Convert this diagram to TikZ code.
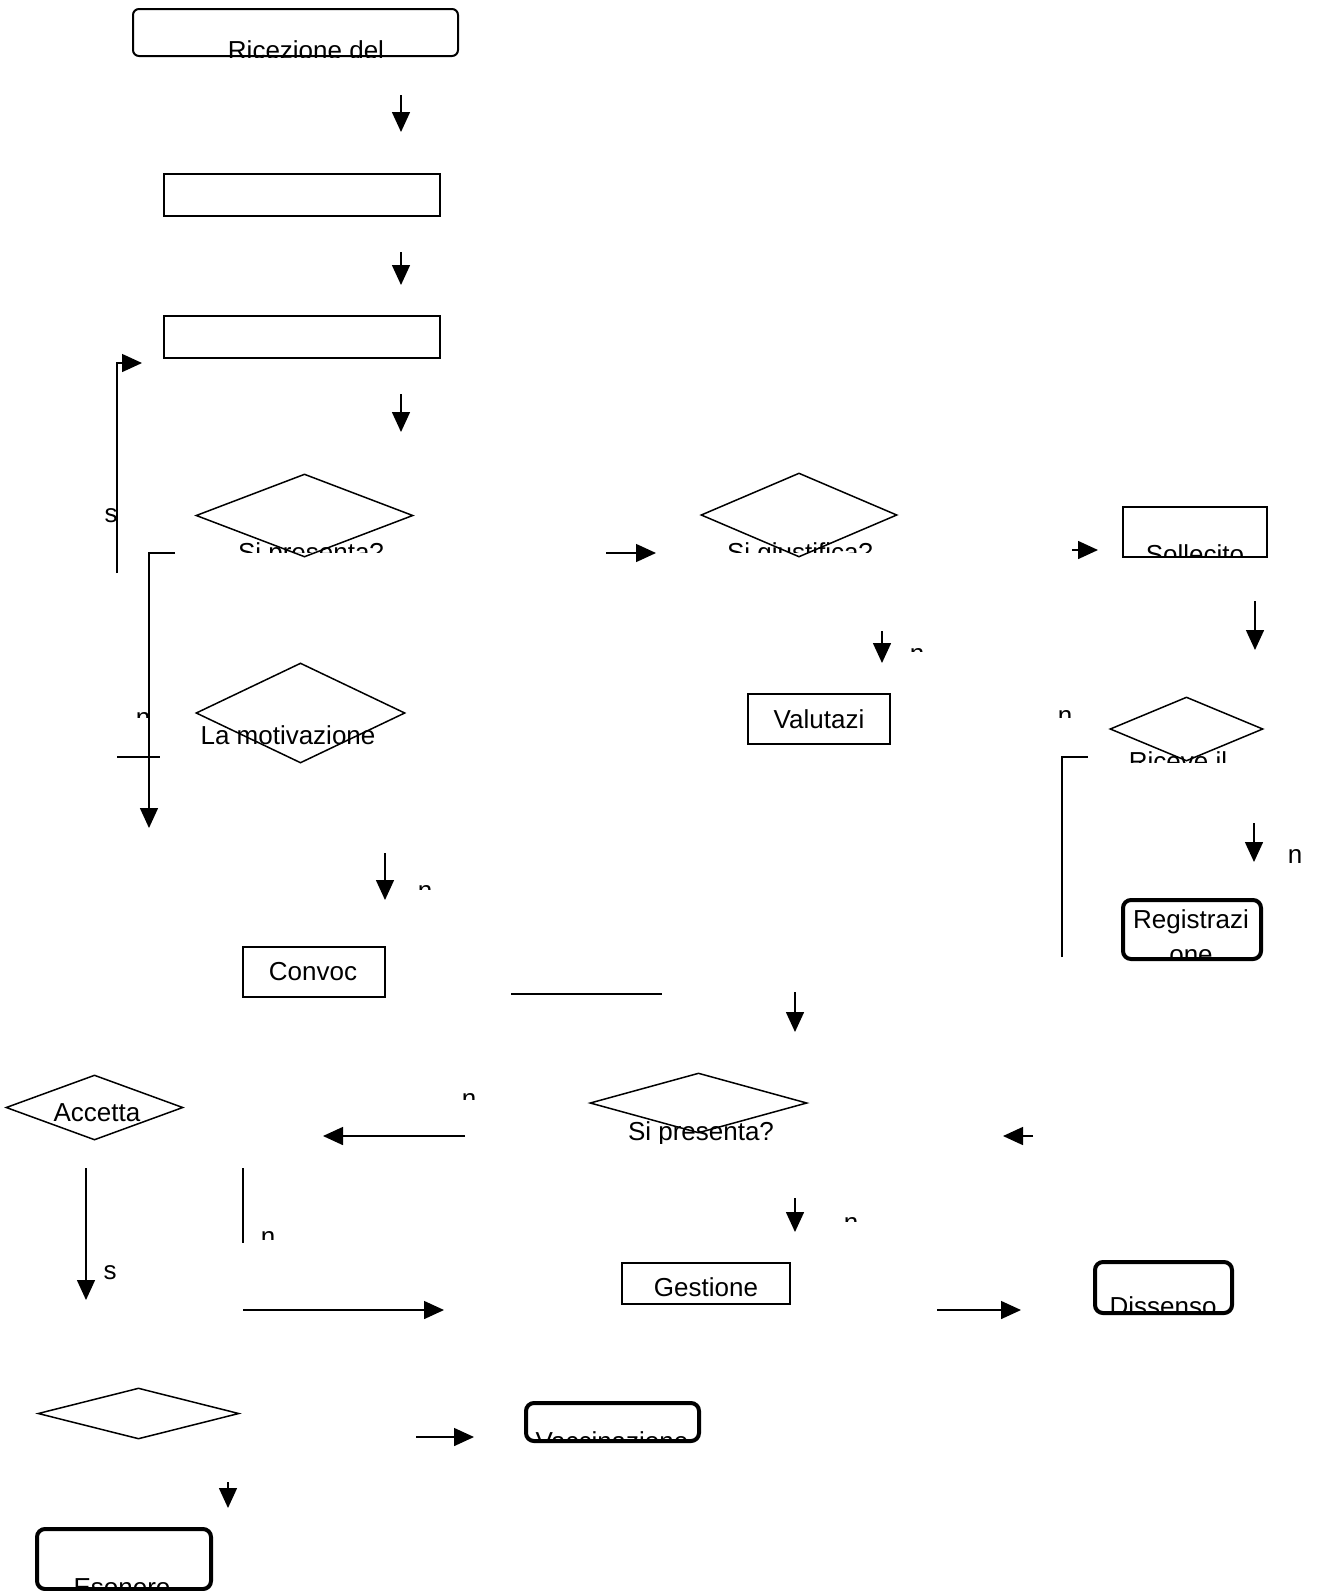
\documentclass[tikz,border=0pt]{standalone}
\usepackage{fontspec}
\setmainfont{Liberation Sans}
\usetikzlibrary{arrows.meta,shapes.geometric}

\tikzset{
  box/.style={draw, line width=1.5pt, inner sep=0pt},
  endbox/.style={draw, line width=4pt, rounded corners=8pt, inner sep=0pt},
  decision/.style={draw, diamond, line width=1.5pt, inner sep=0pt},
  txt/.style={anchor=base, inner sep=0pt, font=\fontsize{26}{30}\selectfont},
  arr/.style={line width=1.5pt, -{Triangle[length=20pt,width=18pt]}},
  conn/.style={line width=1.5pt},
}

\begin{document}
\begin{tikzpicture}[x=1pt, y=-1pt]
    \useasboundingbox (0,0) rectangle (1325,1591);

    % boxes
    \node[box, rounded corners=6pt, line width=2pt, minimum width=325pt, minimum height=47pt] (ric) at (295.5,32.5) {};
    \node[box, minimum width=276pt, minimum height=42pt] (b2) at (302,195) {};
    \node[box, minimum width=276pt, minimum height=42pt] (b3) at (302,337) {};
    \node[box, minimum width=144pt, minimum height=50pt] (soll) at (1195,532) {};
    \node[box, minimum width=142pt, minimum height=50pt] (val) at (819,719) {};
    \node[box, minimum width=142pt, minimum height=50pt] (conv) at (314,972) {};
    \node[box, minimum width=168pt, minimum height=41pt] (gest) at (706,1283.5) {};
    \node[endbox, minimum width=138pt, minimum height=59pt] (reg) at (1192,929.5) {};
    \node[endbox, minimum width=137pt, minimum height=51pt] (diss) at (1163.5,1287.5) {};
    \node[endbox, minimum width=173pt, minimum height=38pt] (vacc) at (612.5,1422) {};
    \node[endbox, minimum width=174pt, minimum height=60pt] (eson) at (124,1559) {};

    % decisions
    \node[decision, minimum width=217pt, minimum height=83pt] (d1) at (304.5,515.5) {};
    \node[decision, minimum width=209pt, minimum height=100pt] (d2) at (300.5,713) {};
    \node[decision, minimum width=196pt, minimum height=84pt] (d3) at (799,515) {};
    \node[decision, minimum width=153pt, minimum height=64pt] (d4) at (1186.5,729) {};
    \node[decision, minimum width=177pt, minimum height=65pt] (d5) at (94.5,1107.5) {};
    \node[decision, minimum width=217pt, minimum height=60pt] (d6) at (698.5,1103) {};
    \node[decision, minimum width=201pt, minimum height=51pt] (d7) at (138.5,1413.5) {};

    % texts
    \node[txt] (valT) at (819,728) {Valutazi};
    \node[txt] (convT) at (313,980) {Convoc};
    \node[txt] (motT) at (288,744) {La motivazione};
    \node[txt] (accT) at (97,1121) {Accetta};
    \node[txt] (regT) at (1191,928) {Registrazi};

    \begin{scope}
        \clip (ric.north west) rectangle (ric.south east);
        \node[txt] (ricT) at (306,59) {Ricezione del};
    \end{scope}
    \begin{scope}
        \clip (220,530) rectangle (400,552);
        \node[txt] (d1T) at (311,561) {Si presenta?};
    \end{scope}
    \begin{scope}
        \clip (720,530) rectangle (880,552);
        \node[txt] (d3T) at (800,561) {Si giustifica?};
    \end{scope}
    \begin{scope}
        \clip (soll.north west) rectangle (soll.south east);
        \node[txt] (sollT) at (1195,563) {Sollecito};
    \end{scope}
    \begin{scope}
        \clip (1110,740) rectangle (1250,762);
        \node[txt] (d4T) at (1178,770) {Riceve il};
    \end{scope}
    \begin{scope}
        \clip (reg.north west) rectangle (1265,956);
        \node[txt] (regT2) at (1191,963) {one};
    \end{scope}
    \begin{scope}
        \clip (600,1110) rectangle (800,1143);
        \node[txt] (d6T) at (701,1140) {Si presenta?};
    \end{scope}
    \begin{scope}
        \clip (gest.north west) rectangle (gest.south east);
        \node[txt] (gestT) at (706,1296) {Gestione};
    \end{scope}
    \begin{scope}
        \clip (diss.north west) rectangle (1235,1311);
        \node[txt] (dissT) at (1163,1315) {Dissenso};
    \end{scope}
    \begin{scope}
        \clip (vacc.north west) rectangle (697,1439);
        \node[txt] (vaccT) at (612,1450) {Vaccinazione};
    \end{scope}
    \begin{scope}
        \clip (eson.north west) rectangle (209,1587);
        \node[txt] (esonT) at (122,1596) {Esonero};
    \end{scope}

    % cut labels
    \node[txt] (s1) at (111,522) {s};
    \node[txt] (s2) at (110,1279) {s};
    \foreach \x/\yb/\yc [count=\i] in {143/726.5/717, 425/899.5/889, 917/662.5/651, 1065/724.5/717,
        1295/863.5/862, 469/1107.5/1099, 268/1245.5/1239, 851/1231.5/1221}
    {
        \begin{scope}
            \clip (\x-9,\yb-16) rectangle (\x+9,\yc);
            \node[txt] (frag\i) at (\x,\yb) {n};
        \end{scope}
    }

    % arrows
    \foreach \n/\xa/\ya/\xb/\yb in {a1/401/95/401/132, a2/401/252/401/285, a3/401/394/401/432,
        a4/882/631/882/663, a5/1255/601/1255/650, a6/1254/823/1254/862, a7/385/853/385/900,
        a8/795/992/795/1032, a9/795/1198/795/1232, a10/228/1482/228/1508,
        r1/606/553/656/553, r2/1072/550/1098/550, r3/243/1310/444/1310, r4/937/1310/1021/1310,
        r5/416/1437/474/1437, l1/465/1136/323/1136, l2/1033/1136/1003/1136}
    {
        \coordinate (\n s) at (\xa,\ya);
        \coordinate (\n e) at (\xb,\yb);
        \draw[arr] (\n s) -- (\n e);
    }

    % loose lines
    \coordinate (p1) at (117,573);
    \coordinate (p1e) at (142,363);
    \draw[arr] (p1) |- (p1e);
    \coordinate (p2) at (175,553);
    \coordinate (p2e) at (149,828);
    \draw[arr] (p2) -| (p2e);
    \coordinate (t1) at (117,757);
    \coordinate (t1e) at (160,757);
    \draw[conn] (t1) -- (t1e);
    \coordinate (p4) at (1062,957);
    \coordinate (p4e) at (1088,757);
    \draw[conn] (p4) |- (p4e);
    \coordinate (p5) at (511,994);
    \coordinate (p5e) at (662,994);
    \draw[conn] (p5) -- (p5e);
    \coordinate (p6) at (86,1168);
    \coordinate (p6e) at (86,1300);
    \draw[arr] (p6) -- (p6e);
    \coordinate (p7) at (243,1168);
    \coordinate (p7e) at (243,1243);
    \draw[conn] (p7) -- (p7e);
\end{tikzpicture}
\end{document}
